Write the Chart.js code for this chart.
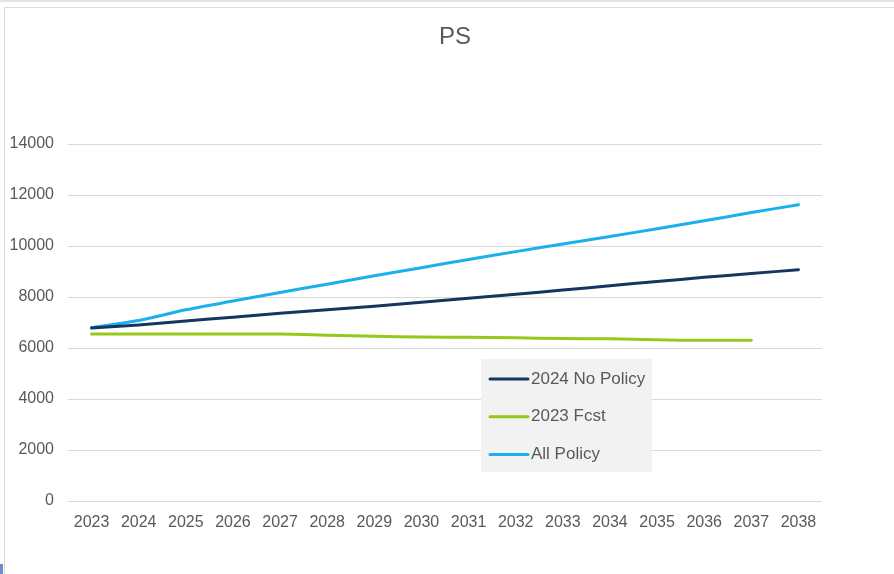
<!DOCTYPE html>
<html>
<head>
<meta charset="utf-8">
<script src="https://cdn.jsdelivr.net/npm/chart.js@4.4.1/dist/chart.umd.min.js"></script>
<style>
  html, body { margin: 0; padding: 0; background: #ffffff; overflow: hidden; }
  #wrap { position: relative; width: 894px; height: 574px; overflow: hidden; }
  #frame { position: absolute; left: 4px; top: 7px; width: 900px; height: 580px; border: 1px solid #d9d9d9; box-sizing: border-box; pointer-events: none; }
  #topline { position: absolute; left: 0; top: 0; width: 894px; height: 2px; background: #e3e3e3; }
  #corner { position: absolute; left: 0; top: 564px; width: 3px; height: 10px; background: #6f8fc4; }
  canvas { position: absolute; left: 0; top: 0; }
</style>
</head>
<body>
<div id="wrap">
  <canvas id="c" width="894" height="574"></canvas>
  <div id="topline"></div>
  <div id="frame"></div>
  <div id="corner"></div>
</div>
<script>
const chartTitle = "PS";
const years = ["2023","2024","2025","2026","2027","2028","2029","2030","2031","2032","2033","2034","2035","2036","2037","2038"];
const seriesNames = ["2024 No Policy", "2023 Fcst", "All Policy"];
const noPolicy2024 = [6780, 6900, 7060, 7210, 7360, 7500, 7640, 7790, 7950, 8110, 8270, 8440, 8610, 8770, 8920, 9070];
const fcst2023 = [6550, 6550, 6550, 6550, 6550, 6500, 6460, 6430, 6420, 6400, 6370, 6360, 6320, 6300, 6300, null];
const allPolicy = [6800, 7080, 7500, 7840, 8180, 8500, 8830, 9150, 9470, 9780, 10080, 10370, 10680, 10990, 11310, 11620];
const yTicks = [0, 2000, 4000, 6000, 8000, 10000, 12000, 14000];

const FONT = "'Liberation Sans', Arial, sans-serif";
const TEXT = "#595959";

const titlePlugin = {
  id: "customTitle",
  afterDraw(chart) {
    const ctx = chart.ctx;
    ctx.save();
    ctx.font = "24px " + FONT;
    ctx.fillStyle = TEXT;
    ctx.textAlign = "center";
    ctx.textBaseline = "middle";
    ctx.fillText(chartTitle, 455, 37);
    ctx.restore();
  }
};

const legendPlugin = {
  id: "customLegend",
  afterDraw(chart) {
    const ctx = chart.ctx;
    const box = { x: 481, y: 359, w: 171, h: 113 };
    ctx.save();
    ctx.fillStyle = "#f2f2f2";
    ctx.fillRect(box.x, box.y, box.w, box.h);
    ctx.font = "17px " + FONT;
    ctx.textBaseline = "middle";
    ctx.textAlign = "left";
    chart.data.datasets.forEach((ds, i) => {
      const y = 379 + i * 37.7;
      ctx.strokeStyle = ds.borderColor;
      ctx.lineWidth = 3;
      ctx.lineCap = "round";
      ctx.beginPath();
      ctx.moveTo(490, y);
      ctx.lineTo(528, y);
      ctx.stroke();
      ctx.fillStyle = TEXT;
      ctx.fillText(ds.label, 531, y);
    });
    ctx.restore();
  }
};

new Chart(document.getElementById("c"), {
  type: "line",
  data: {
    labels: years,
    datasets: [
      { label: seriesNames[0], data: noPolicy2024, borderColor: "#14365f", backgroundColor: "#14365f" },
      { label: seriesNames[1], data: fcst2023, borderColor: "#94c81a", backgroundColor: "#94c81a" },
      { label: seriesNames[2], data: allPolicy, borderColor: "#1ab0ec", backgroundColor: "#1ab0ec" }
    ].map(d => Object.assign(d, { borderWidth: 3, pointRadius: 0, tension: 0.2, fill: false, spanGaps: false, borderCapStyle: "round" }))
  },
  options: {
    responsive: false,
    animation: false,
    devicePixelRatio: 1,
    layout: { padding: { top: 144, right: 72, bottom: 20, left: 0 } },
    plugins: {
      legend: { display: false },
      title: { display: false },
      tooltip: { enabled: false }
    },
    scales: {
      x: {
        offset: true,
        grid: { display: false, drawTicks: false },
        border: { display: false },
        ticks: { color: TEXT, font: { family: FONT, size: 16 }, padding: 12, maxRotation: 0, autoSkip: false },
        afterFit(s) { s.height = 53; }
      },
      y: {
        min: 0, max: 14000,
        afterBuildTicks(s) { s.ticks = yTicks.map(v => ({ value: v })); },
        grid: { color: "#d9d9d9", lineWidth: 1, drawTicks: false },
        border: { display: false },
        ticks: { color: TEXT, font: { family: FONT, size: 16 }, padding: 14, callback: v => String(v) },
        afterFit(s) { s.width = 68; }
      }
    }
  },
  plugins: [titlePlugin, legendPlugin]
});
</script>
</body>
</html>
